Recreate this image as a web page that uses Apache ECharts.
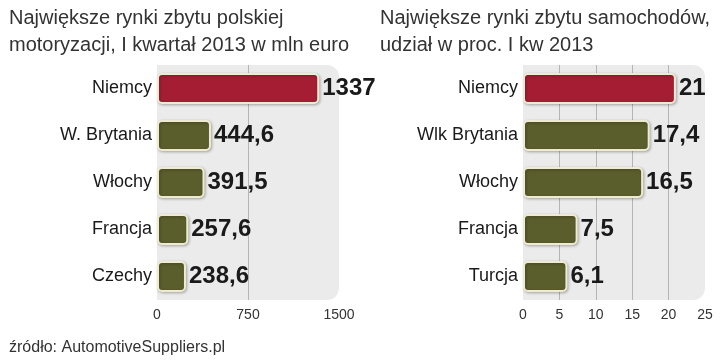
<!DOCTYPE html>
<html><head><meta charset="utf-8">
<script src="https://cdn.jsdelivr.net/npm/echarts@6/dist/echarts.min.js"></script>
<style>html,body{margin:0;padding:0;background:#fff}#c{width:720px;height:364px}</style>
</head><body><div id="c"></div>
<script>
var title1 = 'Największe rynki zbytu polskiej\nmotoryzacji, I kwartał 2013 w mln euro';
var title2 = 'Największe rynki zbytu samochodów,\nudział w proc. I kw 2013';
var source = 'źródło: AutomotiveSuppliers.pl';
var cats1 = ['Niemcy', 'W. Brytania', 'Włochy', 'Francja', 'Czechy'];
var vals1 = [1337, 444.6, 391.5, 257.6, 238.6];
var labels1 = ['1337', '444,6', '391,5', '257,6', '238,6'];
var cats2 = ['Niemcy', 'Wlk Brytania', 'Włochy', 'Francja', 'Turcja'];
var vals2 = [21, 17.4, 16.5, 7.5, 6.1];
var labels2 = ['21', '17,4', '16,5', '7,5', '6,1'];

var RED = '#a51d33', OLIVE = '#5a5d2c';
var FONT = '"Liberation Sans",Arial,sans-serif';
var chart = echarts.init(document.getElementById('c'));
var G1 = {left: 157, top: 65, width: 182, height: 235};
var G2 = {left: 523, top: 65, width: 182, height: 235};
function bg(g) {
  return {type: 'rect', z: -10, shape: {x: g.left, y: g.top, width: g.width, height: g.height, r: [0, 12, 12, 0]},
    style: {fill: '#ebebeb'}};
}
function series(idx, vals, labels) {
  return {
    type: 'bar', xAxisIndex: idx, yAxisIndex: idx, barWidth: 31,
    data: vals.map(function (v, i) {
      return {value: v, itemStyle: {color: i === 0 ? RED : OLIVE}};
    }),
    itemStyle: {borderColor: '#efead2', borderWidth: 2, borderRadius: 4,
      shadowColor: 'rgba(0,0,0,0.25)', shadowBlur: 3, shadowOffsetX: 1, shadowOffsetY: 1},
    label: {show: true, position: 'right', distance: 3,
      formatter: function (p) { return labels[p.dataIndex]; },
      fontFamily: FONT, fontWeight: 'bold', fontSize: 24, color: '#1a1a1a'}
  };
}
var axLab = {color: '#333', fontSize: 14, fontFamily: FONT, margin: 8,
  formatter: function (v) { return String(v); }};
var catLab = {color: '#1a1a1a', fontSize: 18, fontFamily: FONT, margin: 5};
chart.setOption({
  animation: false,
  graphic: [bg(G1), bg(G2),
    {type: 'text', left: 9, top: 5, style: {text: title1, fontSize: 20, lineHeight: 27, fill: '#333', fontFamily: FONT}},
    {type: 'text', left: 380, top: 5, style: {text: title2, fontSize: 20, lineHeight: 27, fill: '#333', fontFamily: FONT}},
    {type: 'text', left: 9, top: 340, style: {text: source, fontSize: 16, fill: '#333', fontFamily: FONT}}
  ],
  grid: [G1, G2],
  xAxis: [
    {gridIndex: 0, type: 'value', min: 0, max: 1500, interval: 750,
      axisLine: {show: false}, axisTick: {show: false}, axisLabel: axLab,
      splitLine: {show: true, lineStyle: {color: ['transparent', '#b5b5b5', 'transparent'], width: 1}}},
    {gridIndex: 1, type: 'value', min: 0, max: 25, interval: 5,
      axisLine: {show: false}, axisTick: {show: false}, axisLabel: axLab,
      splitLine: {show: true, lineStyle: {color: ['transparent', '#b5b5b5', '#b5b5b5', '#b5b5b5', '#b5b5b5', 'transparent'], width: 1}}}
  ],
  yAxis: [
    {gridIndex: 0, type: 'category', data: cats1, inverse: true,
      axisLine: {show: false}, axisTick: {show: false}, axisLabel: catLab},
    {gridIndex: 1, type: 'category', data: cats2, inverse: true,
      axisLine: {show: false}, axisTick: {show: false}, axisLabel: catLab}
  ],
  series: [series(0, vals1, labels1), series(1, vals2, labels2)]
});
</script></body></html>
